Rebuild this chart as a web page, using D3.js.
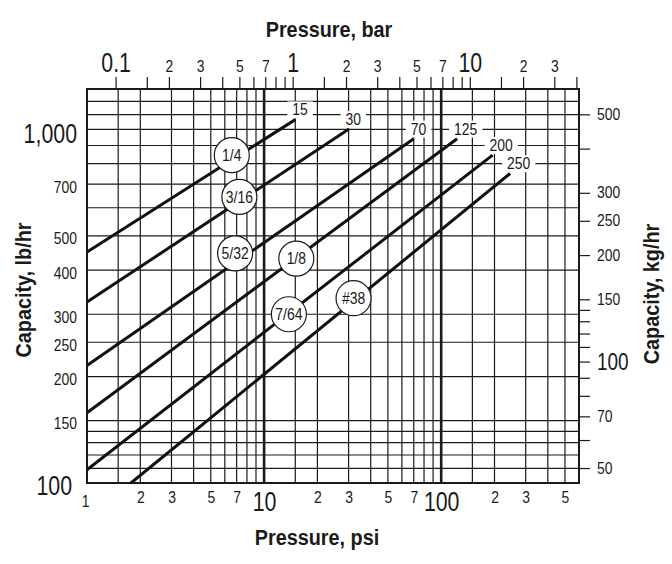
<!DOCTYPE html>
<html>
  <head>
    <style>
      body {
        margin: 0;
        background: #fff;
      }
      svg {
        font-family: "Liberation Sans", Arial, sans-serif;
      }
      .grid line {
        stroke: #1a1a1a;
        stroke-width: 1.2;
      }
      .axis path {
        display: none;
      }
      .axis line {
        stroke: #1a1a1a;
        stroke-width: 1.2;
      }
      .axis text {
        fill: #1a1a1a;
        font-size: 16px;
      }
      .title {
        font-size: 22px;
        font-weight: bold;
        text-anchor: middle;
        fill: #1a1a1a;
      }
      .curve {
        fill: none;
        stroke: #111;
        stroke-width: 3;
      }
      .end-label {
        font-size: 16px;
        fill: #1a1a1a;
      }
      .size-label {
        font-size: 16px;
        fill: #1a1a1a;
        text-anchor: middle;
      }
    </style>
  </head>
  <body>
    <div id="chart"></div>

    <script src="https://d3js.org/d3.v7.min.js"></script>
    <script>
      // grid and tick values
      const psiGrid = [1.5, 2, 3, 4, 5, 6, 7, 8, 9, 10, 15, 20, 30, 40, 50, 60, 70, 80, 90, 100, 150, 200, 300, 400, 500];
      const psiLabels = [1, 2, 3, 5, 7, 10, 20, 30, 50, 70, 100, 200, 300, 500];
      const psiLabelText = ["1", "2", "3", "5", "7", "10", "2", "3", "5", "7", "100", "2", "3", "5"];
      const psiBig = [10, 100];
      const barTicks = [0.1, 0.15, 0.2, 0.3, 0.4, 0.5, 0.6, 0.7, 0.8, 0.9, 1, 1.5, 2, 3, 4, 5, 6, 7, 8, 9, 10, 15, 20, 30, 40];
      const barLabels = [0.1, 0.2, 0.3, 0.5, 0.7, 1, 2, 3, 5, 7, 10, 20, 30];
      const barLabelText = ["0.1", "2", "3", "5", "7", "1", "2", "3", "5", "7", "10", "2", "3"];
      const barBig = [0.1, 1, 10];
      const lbGrid = [110, 120, 130, 140, 150, 200, 250, 300, 400, 500, 600, 700, 800, 900, 1000, 1100, 1200];
      const lbLabels = [100, 150, 200, 250, 300, 400, 500, 700, 1000];
      const lbLabelText = ["100", "150", "200", "250", "300", "400", "500", "700", "1,000"];
      const lbBig = [100, 1000];
      const kgTicks = [50, 60, 70, 80, 90, 100, 110, 120, 130, 140, 150, 200, 250, 300, 400, 500];
      const kgLabels = [50, 70, 100, 150, 200, 250, 300, 500];
      const kgBig = [100];

      // curves: orifice size, max pressure label, start and end points (psi, lb/hr)
      const orifice = ["1/4", "3/16", "5/32", "1/8", "7/64", "#38"];
      const maxPsi = ["15", "30", "70", "125", "200", "250"];
      const startPsi = [1, 1, 1, 1, 1, 1.77];
      const startLb = [450, 325, 215, 158, 109, 100];
      const endPsi = [15, 30, 70, 123, 195, 245];
      const endLb = [1065, 1000, 940, 940, 845, 750];
      // circled size labels (psi, lb/hr)
      const circlePsi = [6.57, 7.25, 6.86, 15.2, 13.8, 32];
      const circleLb = [845, 644, 446, 431, 300, 333];

      const W = 672,
        H = 564;
      const plotLeft = 87,
        plotRight = 579,
        plotTop = 89,
        plotBottom = 483;

      const svg = d3
        .select("#chart")
        .append("svg")
        .attr("width", W)
        .attr("height", H);

      const x = d3.scaleLog().domain([1, 600]).range([plotLeft, plotRight]);
      const y = d3.scaleLog().domain([100, 1300]).range([plotBottom, plotTop]);
      const xBar = d3.scaleLog().domain([1 / 14.5038, 600 / 14.5038]).range([plotLeft, plotRight]);
      const yKg = d3.scaleLog().domain([100 / 2.20462, 1300 / 2.20462]).range([plotBottom, plotTop]);

      // squeeze text horizontally to mimic the condensed face of the original
      function condense(sel, k) {
        sel.each(function () {
          const t = d3.select(this);
          if (!t.text()) return;
          const w = this.getComputedTextLength();
          t.attr("textLength", w * k).attr("lengthAdjust", "spacingAndGlyphs");
        });
      }

      // grid
      const grid = svg.append("g").attr("class", "grid");
      grid
        .selectAll(".v")
        .data(psiGrid)
        .enter()
        .append("line")
        .attr("x1", (d) => x(d))
        .attr("x2", (d) => x(d))
        .attr("y1", plotTop)
        .attr("y2", plotBottom)
        .style("stroke-width", (d) => (d === 10 || d === 100 ? 2.6 : null));
      grid
        .selectAll(".h")
        .data(lbGrid)
        .enter()
        .append("line")
        .attr("x1", plotLeft)
        .attr("x2", plotRight)
        .attr("y1", (d) => y(d))
        .attr("y2", (d) => y(d));

      svg
        .append("rect")
        .attr("x", plotLeft)
        .attr("y", plotTop)
        .attr("width", plotRight - plotLeft)
        .attr("height", plotBottom - plotTop)
        .attr("fill", "none")
        .attr("stroke", "#1a1a1a")
        .attr("stroke-width", 2);

      function styleLabels(g, bigVals, bigSize) {
        const texts = g.selectAll("text");
        texts.filter((d) => bigVals.includes(d)).style("font-size", bigSize);
        condense(texts.filter((d) => bigVals.includes(d)), 0.79);
        condense(texts.filter((d) => !bigVals.includes(d)), 0.87);
      }

      // top axis (bar)
      const gTop = svg
        .append("g")
        .attr("class", "axis")
        .attr("transform", "translate(0," + plotTop + ")")
        .call(
          d3
            .axisTop(xBar)
            .tickValues(barTicks)
            .tickSize(12)
            .tickPadding(5)
            .tickFormat((d) => {
              const i = barLabels.indexOf(d);
              return i < 0 ? "" : barLabelText[i];
            })
        );
      styleLabels(gTop, barBig, "27px");

      // bottom axis (psi)
      const gBottom = svg
        .append("g")
        .attr("class", "axis")
        .attr("transform", "translate(0," + plotBottom + ")")
        .call(
          d3
            .axisBottom(x)
            .tickValues(psiLabels)
            .tickSize(0)
            .tickPadding(9)
            .tickFormat((d, i) => psiLabelText[i])
        );
      styleLabels(gBottom, psiBig, "27px");
      gBottom.selectAll("text").filter((d) => d === 1).attr("x", -2).attr("y", 13);

      // left axis (lb/hr)
      const gLeft = svg
        .append("g")
        .attr("class", "axis")
        .attr("transform", "translate(" + plotLeft + ",0)")
        .call(
          d3
            .axisLeft(y)
            .tickValues(lbLabels)
            .tickSize(0)
            .tickPadding(10)
            .tickFormat((d, i) => lbLabelText[i])
        );
      gLeft.selectAll("text").attr("dy", "0.5em");
      styleLabels(gLeft, lbBig, "27px");
      gLeft.selectAll("text").filter((d) => d === 100).attr("x", -15).attr("dy", "0.42em");

      // right axis (kg/hr)
      const gRight = svg
        .append("g")
        .attr("class", "axis")
        .attr("transform", "translate(" + plotRight + ",0)")
        .call(
          d3
            .axisRight(yKg)
            .tickValues(kgTicks)
            .tickSize(11)
            .tickPadding(7)
            .tickFormat((d) => (kgLabels.includes(d) ? d : ""))
        );
      styleLabels(gRight, kgBig, "24px");

      // axis titles
      const titles = svg.append("g");
      titles.append("text").attr("class", "title").attr("x", 329).attr("y", 37).text("Pressure, bar");
      titles.append("text").attr("class", "title").attr("x", 317).attr("y", 545).text("Pressure, psi");
      titles
        .append("text")
        .attr("class", "title")
        .attr("transform", "translate(31,290) rotate(-90)")
        .text("Capacity, lb/hr");
      titles
        .append("text")
        .attr("class", "title")
        .attr("transform", "translate(659,294) rotate(-90)")
        .text("Capacity, kg/hr");
      condense(titles.selectAll("text"), 0.9);

      const curves = orifice.map((name, i) => ({
        name: name,
        max: maxPsi[i],
        pts: [
          [startPsi[i], startLb[i]],
          [endPsi[i], endLb[i]],
        ],
        cPsi: circlePsi[i],
        cLb: circleLb[i],
      }));

      // max-pressure labels with white boxes
      const endG = svg
        .selectAll(".end")
        .data(curves)
        .enter()
        .append("g")
        .attr("transform", (d) => "translate(" + (x(d.pts[1][0]) - 3) + "," + (y(d.pts[1][1]) - 10) + ")");
      const endText = endG
        .append("text")
        .attr("class", "end-label")
        .attr("dy", "0.36em")
        .text((d) => d.max);
      condense(endText, 0.87);
      endText.each(function () {
        const b = this.getBBox();
        d3.select(this.parentNode)
          .insert("rect", "text")
          .attr("x", b.x - 5)
          .attr("y", b.y)
          .attr("width", b.width + 10)
          .attr("height", b.height)
          .attr("fill", "#fff");
      });

      // curves
      const line = d3
        .line()
        .x((d) => x(d[0]))
        .y((d) => y(d[1]));
      svg
        .selectAll(".curve")
        .data(curves)
        .enter()
        .append("path")
        .attr("class", "curve")
        .attr("d", (d) => line(d.pts));

      // circled orifice sizes
      const cg = svg
        .selectAll(".size")
        .data(curves)
        .enter()
        .append("g")
        .attr("transform", (d) => "translate(" + x(d.cPsi) + "," + y(d.cLb) + ")");
      cg.append("circle").attr("r", 17.5).attr("fill", "#fff").attr("stroke", "#1a1a1a").attr("stroke-width", 1.2);
      const sizeText = cg
        .append("text")
        .attr("class", "size-label")
        .attr("dy", "0.36em")
        .text((d) => d.name);
      condense(sizeText, 0.87);
    </script>
  </body>
</html>
